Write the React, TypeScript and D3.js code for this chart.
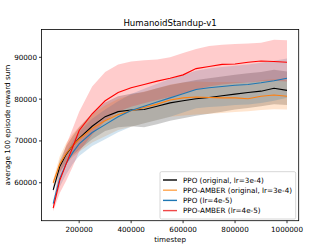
import React from 'react';
import * as d3 from 'd3';

// timesteps (in thousands)
const steps = [100, 125, 150, 175, 200, 250, 300, 350, 400, 450, 500, 550, 600, 650, 700, 750, 800, 850, 900, 950, 1000];

const ppoMean = [58300, 63800, 66800, 68900, 70600, 73500, 75800, 77000, 77400, 77500, 78300, 79100, 79600, 80100, 80400, 80800, 81200, 81600, 81900, 82600, 82100];
const ppoLo = [57700, 62300, 64900, 66600, 67900, 70400, 72400, 73300, 73500, 73300, 74000, 74800, 75400, 76000, 76500, 77000, 77500, 77900, 78300, 78800, 78600];
const ppoHi = [58900, 65300, 68700, 71200, 73300, 76600, 79200, 80700, 81300, 81700, 82600, 83400, 84000, 84600, 85000, 85400, 85800, 86200, 86500, 87000, 86600];

const amberMean = [60000, 64500, 67000, 68900, 70400, 73000, 74800, 76300, 77200, 78000, 78800, 79800, 80300, 80500, 80400, 80300, 80300, 80100, 80700, 81000, 80700];
const amberLo = [59300, 62700, 64500, 66100, 67400, 69600, 71100, 72600, 73400, 74200, 75000, 75800, 76100, 76300, 76500, 76700, 76900, 77100, 77400, 77600, 77500];
const amberHi = [60700, 66300, 69500, 71700, 73400, 76400, 78500, 80000, 81000, 81800, 82600, 83500, 84000, 84200, 84100, 84100, 84100, 83900, 84500, 84800, 84500];

const ppoLowMean = [55000, 61000, 64600, 67200, 69300, 72000, 73900, 75800, 77300, 78300, 79300, 80300, 81300, 82300, 82700, 83000, 83300, 83500, 83900, 84400, 85000];
const ppoLowLo = [54200, 59000, 62000, 64500, 66400, 68800, 70400, 72100, 73400, 74200, 75000, 75800, 76800, 77800, 78100, 78300, 78600, 78700, 79100, 79600, 80300];
const ppoLowHi = [55800, 63000, 67200, 70000, 72200, 75300, 77500, 79500, 81200, 82500, 83700, 84800, 85800, 86800, 87300, 87700, 88000, 88300, 88700, 89200, 89700];

const amberLowMean = [53900, 60500, 64500, 68500, 72500, 76500, 79600, 81600, 82700, 83500, 84300, 85000, 85800, 87300, 87800, 88300, 88400, 88800, 89100, 89000, 88800];
const amberLowLo = [53200, 57500, 60500, 63800, 67500, 71500, 74800, 77000, 78200, 79000, 79800, 80500, 81300, 82300, 83000, 83500, 83800, 84000, 84300, 84400, 84200];
const amberLowHi = [54600, 64000, 69000, 73000, 77000, 83000, 86500, 88300, 89000, 89300, 89500, 90000, 91000, 92000, 92700, 93000, 93200, 93300, 93500, 94200, 94100];

const xTicks = [200000, 400000, 600000, 800000, 1000000];
const yTicks = [60000, 70000, 80000, 90000];

const series = [
  { name: 'PPO (original, lr=3e-4)', color: '#000000', legendColor: '#000000', mean: ppoMean, lo: ppoLo, hi: ppoHi },
  { name: 'PPO-AMBER (original, lr=3e-4)', color: '#ff7f0e', legendColor: '#ffa651', mean: amberMean, lo: amberLo, hi: amberHi },
  { name: 'PPO (lr=4e-5)', color: '#1f77b4', legendColor: '#1f77b4', mean: ppoLowMean, lo: ppoLowLo, hi: ppoLowHi },
  { name: 'PPO-AMBER (lr=4e-5)', color: '#ff0000', legendColor: '#f04848', mean: amberLowMean, lo: amberLowLo, hi: amberLowHi },
];

const W = 332;
const H = 249;
const plot = { left: 41.5, right: 298.7, top: 29.5, bottom: 220.7 };
const font = 'DejaVu Sans, sans-serif';

export default function App() {
  const x = d3.scaleLinear().domain([55000, 1045000]).range([plot.left, plot.right]);
  const y = d3.scaleLinear().domain([50920, 96650]).range([plot.bottom, plot.top]);

  const line = d3.line<number>()
    .x((_, i) => x(steps[i] * 1000))
    .y(d => y(d));

  const area = (lo: number[], hi: number[]) =>
    d3.area<number>()
      .x((_, i) => x(steps[i] * 1000))
      .y0((_, i) => y(lo[i]))
      .y1((_, i) => y(hi[i]))(steps) || '';

  // legend layout
  const lg = { x: 160, y: 171.7, w: 135.7, h: 47.3 };

  return (
    <svg width={W} height={H} style={{ position: 'absolute', left: 0, top: 0, background: '#fff' }}
      fontFamily={font}>
      <rect x={0} y={0} width={W} height={H} fill="#fff" />
      <defs>
        <clipPath id="plotClip">
          <rect x={plot.left} y={plot.top} width={plot.right - plot.left} height={plot.bottom - plot.top} />
        </clipPath>
      </defs>

      <g clipPath="url(#plotClip)">
        {series.map(s => (
          <path key={s.name + '-band'} d={area(s.lo, s.hi)} fill={s.color} fillOpacity={0.2} stroke="none" />
        ))}
        {series.map(s => (
          <path key={s.name} d={line(s.mean) || ''} fill="none" stroke={s.color} strokeWidth={1.1} />
        ))}
      </g>

      {/* axes frame */}
      <rect x={plot.left} y={plot.top} width={plot.right - plot.left} height={plot.bottom - plot.top}
        fill="none" stroke="#000" strokeWidth={0.8} />

      {/* x ticks */}
      {xTicks.map(t => (
        <g key={t} transform={`translate(${x(t)},${plot.bottom})`}>
          <line y1={0} y2={2.5} stroke="#000" strokeWidth={0.8} />
          <text y={11} textAnchor="middle" fontSize={7.2} fill="#000">{t}</text>
        </g>
      ))}
      {/* y ticks */}
      {yTicks.map(t => (
        <g key={t} transform={`translate(${plot.left},${y(t)})`}>
          <line x1={0} x2={-2.5} stroke="#000" strokeWidth={0.8} />
          <text x={-4.5} dy="0.35em" textAnchor="end" fontSize={7.2} fill="#000">{t}</text>
        </g>
      ))}

      <text x={(plot.left + plot.right) / 2} y={25.5} textAnchor="middle" fontSize={8.6} fill="#000">
        HumanoidStandup-v1
      </text>
      <text x={(plot.left + plot.right) / 2} y={241.5} textAnchor="middle" fontSize={7.2} fill="#000">
        timestep
      </text>
      <text transform={`translate(9.5,${(plot.top + plot.bottom) / 2}) rotate(-90)`} textAnchor="middle"
        fontSize={7.2} fill="#000">
        average 100 episode reward sum
      </text>

      {/* legend */}
      <rect x={lg.x} y={lg.y} width={lg.w} height={lg.h} rx={1.5} fill="#fff" fillOpacity={0.8}
        stroke="#cccccc" strokeWidth={0.8} />
      {series.map((s, i) => {
        const ly = 180 + i * 10.2;
        return (
          <g key={s.name + '-legend'}>
            <line x1={163} x2={177} y1={ly} y2={ly} stroke={s.legendColor} strokeWidth={1.4} />
            <text x={183} y={ly} dy="0.35em" fontSize={7.2} fill="#000">{s.name}</text>
          </g>
        );
      })}
    </svg>
  );
}
